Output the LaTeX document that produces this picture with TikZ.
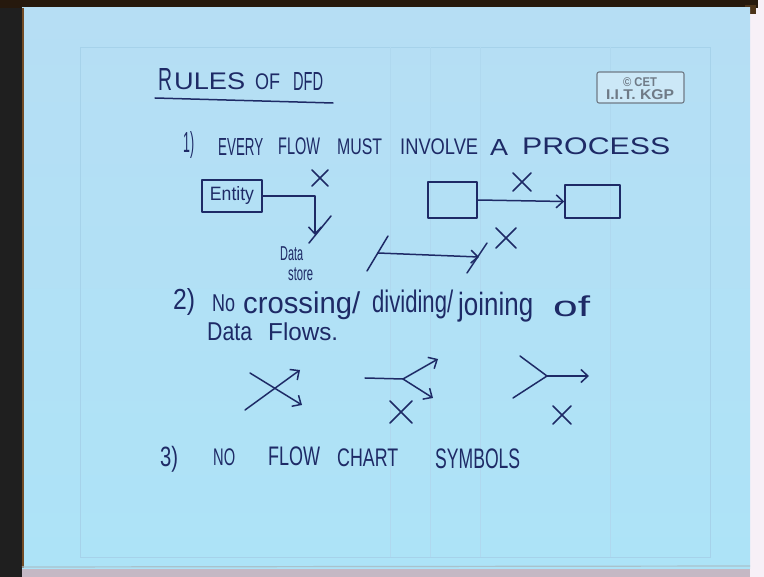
\documentclass[tikz,border=0pt]{standalone}
\usepackage{fontspec}
\setmainfont{Liberation Sans}
\usepackage{graphicx}
\usetikzlibrary{arrows.meta}

\definecolor{ink}{HTML}{1E2A66}
\definecolor{paperTop}{HTML}{B6DEF4}
\definecolor{paperBot}{HTML}{ADE3F7}
\definecolor{ruling}{HTML}{A6D2EA}
\definecolor{stampGrey}{HTML}{6F7A86}

\tikzset{
  inkline/.style={draw=ink, line width=1.5pt, line cap=round, line join=round},
  flow/.style={inkline, -{Straight Barb[length=7pt, width=13pt, line width=1.5pt]}},
  wordbox/.style={anchor=north west, inner sep=0pt, text=ink, font=\fontsize{20}{20}\selectfont},
  inkbox/.style={inkline, rectangle, inner sep=0pt},
}

% a handwritten word fitted into its ink box: name, left x, top y, width, height, text
\newcommand\inkword[6]{\node[wordbox] (#1) at (#2,#3) {\resizebox*{#4pt}{#5pt}{#6}};}
% a hand-drawn cross centred at (x,y) with half size s
\newcommand\handcross[3]{\draw[inkline, shift={(#1,#2)}] (-#3,-#3) -- (#3,#3) (#3,-#3) -- (-#3,#3);}

\begin{document}
\begin{tikzpicture}[x=1pt, y=-1pt]
  \useasboundingbox (0,0) rectangle (764,577);

  % surroundings of the sheet
  \fill[white!94!violet] (0,0) rectangle (764,577);
  \fill[black!88] (0,0) rectangle (22,577);
  \fill[black!80!brown] (0,0) rectangle (758,8);
  \fill[black!60!brown] (745,5) rectangle (756,14);
  \fill[black!20!white!90!violet] (22,568) rectangle (750,577);

  % the sheet
  \shade[top color=paperTop, bottom color=paperBot] (22,8) rectangle (750,568);
  \draw[brown!60!black, line width=1.5pt] (23,8) -- (23,568);
  \draw[black!55!cyan!40, line width=1.2pt] (22,567) -- (750,566);

  % faint printed frame and rulings
  \draw[ruling, line width=0.8pt] (80,47) rectangle (710,557);
  \foreach \xx in {390, 430, 480, 610} \draw[ruling!45!paperTop, line width=0.6pt] (\xx,47) -- (\xx,557);

  % stamp
  \draw[stampGrey, line width=1.1pt, fill=paperTop!70!white, rounded corners=2pt] (597,72) rectangle (684,103);
  \node[inner sep=0pt, text=stampGrey, font=\bfseries] (stampA) at (640,82.5) {\resizebox*{34pt}{9pt}{© CET}};
  \node[inner sep=0pt, text=stampGrey, font=\bfseries] (stampB) at (640,95) {\resizebox*{68pt}{10pt}{I.I.T. KGP}};

  % title
  \inkword{tR}{158}{68}{14}{22}{R}
  \inkword{tULES}{174}{73}{71}{17}{ULES}
  \inkword{tOF}{255}{74}{25}{16}{OF}
  \inkword{tDFD}{293}{72}{30}{18}{DFD}
  \draw[inkline] (155,98) -- (333,103);

  % rule 1
  \inkword{oneNum}{183}{131}{11}{27}{1)}
  \inkword{oneA}{218}{138}{45}{17}{EVERY}
  \inkword{oneB}{278}{138}{42}{17}{FLOW}
  \inkword{oneC}{337}{139}{45}{16}{MUST}
  \inkword{oneD}{400}{139}{78}{16}{INVOLVE}
  \inkword{oneE}{490}{139}{18}{16}{A}
  \inkword{oneF}{522}{138}{148}{17}{PROCESS}

  % entity straight into a data store
  \node[inkbox, minimum width=60pt, minimum height=32pt] (entity) at (232,196)
    {\textcolor{ink}{\resizebox*{44pt}{18pt}{Entity}}};
  \coordinate (bendA) at (315,196);
  \coordinate (storeIn) at (315,235);
  \draw[flow] (entity.east) -- (bendA) -- (storeIn);
  \draw[inkline] (331,216) -- (309,243);
  \handcross{320}{178}{8}
  \inkword{storeA}{280}{246}{23}{14}{Data}
  \inkword{storeB}{288}{267}{25}{13}{store}

  % one box straight into another box
  \node[inkbox, minimum width=49pt, minimum height=36pt] (boxA) at (452.5,200) {};
  \node[inkbox, minimum width=55pt, minimum height=33pt] (boxB) at (592.5,201.5) {};
  \draw[flow] (boxA.east) -- (boxB.west);
  \handcross{522}{182}{9}

  % a flow with no ends
  \coordinate (looseA) at (378,253);
  \coordinate (looseB) at (479,257);
  \draw[inkline] (367,271) -- (388,236);
  \draw[flow] (looseA) -- (looseB);
  \draw[inkline] (467,273) -- (487,243);
  \handcross{506}{238}{10}

  % rule 2
  \inkword{twoNum}{173}{288}{22}{27}{2)}
  \inkword{twoA}{212}{295}{23}{17}{No}
  \inkword{twoB}{243}{292}{117}{28}{crossing/}
  \inkword{twoC}{372}{290}{81}{29}{dividing/}
  \inkword{twoD}{458}{292}{75}{30}{joining}
  \inkword{twoE}{553}{296}{37}{21}{of}
  \inkword{twoF}{207}{323}{45}{18}{Data}
  \inkword{twoG}{268}{323}{70}{18}{Flows.}

  % crossing flows
  \coordinate (crossA1) at (245,410);
  \coordinate (crossA2) at (300,370);
  \coordinate (crossB1) at (250,373);
  \coordinate (crossB2) at (302,405);
  \draw[flow] (crossA1) -- (crossA2);
  \draw[flow] (crossB1) -- (crossB2);

  % a dividing flow
  \coordinate (divIn) at (365,378);
  \coordinate (divFork) at (403,379);
  \coordinate (divUp) at (438,359);
  \coordinate (divDown) at (433,398);
  \draw[inkline] (divIn) -- (divFork);
  \draw[flow] (divFork) -- (divUp);
  \draw[flow] (divFork) -- (divDown);
  \handcross{401}{412}{11}

  % a joining flow
  \coordinate (joinUp) at (520,356);
  \coordinate (joinDown) at (513,398);
  \coordinate (joinPt) at (547,376);
  \coordinate (joinOut) at (589,376);
  \draw[inkline] (joinUp) -- (joinPt) -- (joinDown);
  \draw[flow] (joinPt) -- (joinOut);
  \handcross{562}{415}{9}

  % rule 3
  \inkword{threeNum}{160}{446}{18}{26}{3)}
  \inkword{threeA}{213}{449}{22}{17}{NO}
  \inkword{threeB}{268}{447}{52}{19}{FLOW}
  \inkword{threeC}{337}{449}{61}{18}{CHART}
  \inkword{threeD}{435}{449}{85}{20}{SYMBOLS}
\end{tikzpicture}
\end{document}
